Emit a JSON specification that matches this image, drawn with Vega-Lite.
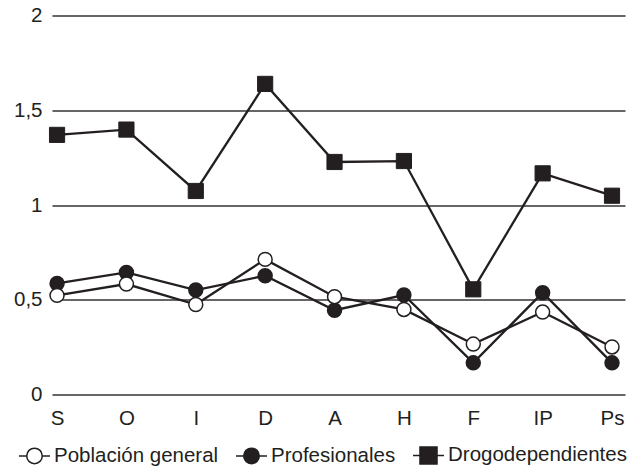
{
  "$schema": "https://vega.github.io/schema/vega-lite/v6.json",
  "width": 573,
  "height": 379,
  "autosize": "none",
  "padding": {"left": 52, "top": 15.5, "right": 14, "bottom": 71.5},
  "background": "white",
  "config": {
    "view": {"stroke": null},
    "font": "Liberation Sans",
    "axis": {"labelFont": "Liberation Sans", "labelColor": "#231f20"},
    "legend": {
      "labelFont": "Liberation Sans",
      "labelColor": "#231f20",
      "labelFontSize": 20.5,
      "labelLimit": 400,
      "labelOffset": 3,
      "columnPadding": 14,
      "padding": 0,
      "symbolSize": 961,
      "symbolStrokeWidth": 1.5,
      "symbolStrokeColor": "#231f20",
      "symbolOpacity": 1
    }
  },
  "data": {
    "values": [
      {"dim": "S", "serie": "Profesionales", "valor": 0.586},
      {"dim": "O", "serie": "Profesionales", "valor": 0.644},
      {"dim": "I", "serie": "Profesionales", "valor": 0.551},
      {"dim": "D", "serie": "Profesionales", "valor": 0.627},
      {"dim": "A", "serie": "Profesionales", "valor": 0.445},
      {"dim": "H", "serie": "Profesionales", "valor": 0.525},
      {"dim": "F", "serie": "Profesionales", "valor": 0.167},
      {"dim": "IP", "serie": "Profesionales", "valor": 0.537},
      {"dim": "Ps", "serie": "Profesionales", "valor": 0.167},
      {"dim": "S", "serie": "Drogodependientes", "valor": 1.37},
      {"dim": "O", "serie": "Drogodependientes", "valor": 1.398},
      {"dim": "I", "serie": "Drogodependientes", "valor": 1.074},
      {"dim": "D", "serie": "Drogodependientes", "valor": 1.639},
      {"dim": "A", "serie": "Drogodependientes", "valor": 1.227},
      {"dim": "H", "serie": "Drogodependientes", "valor": 1.232},
      {"dim": "F", "serie": "Drogodependientes", "valor": 0.555},
      {"dim": "IP", "serie": "Drogodependientes", "valor": 1.167},
      {"dim": "Ps", "serie": "Drogodependientes", "valor": 1.049},
      {"dim": "S", "serie": "Población general", "valor": 0.523},
      {"dim": "O", "serie": "Población general", "valor": 0.583},
      {"dim": "I", "serie": "Población general", "valor": 0.475},
      {"dim": "D", "serie": "Población general", "valor": 0.713},
      {"dim": "A", "serie": "Población general", "valor": 0.516},
      {"dim": "H", "serie": "Población general", "valor": 0.449},
      {"dim": "F", "serie": "Población general", "valor": 0.266},
      {"dim": "IP", "serie": "Población general", "valor": 0.435},
      {"dim": "Ps", "serie": "Población general", "valor": 0.251}
    ]
  },
  "encoding": {
    "x": {
      "field": "dim",
      "type": "nominal",
      "sort": ["S", "O", "I", "D", "A", "H", "F", "IP", "Ps"],
      "scale": {"type": "point", "padding": 0.13, "align": 0.28},
      "axis": {
        "title": null,
        "domain": false,
        "ticks": false,
        "tickSize": 0,
        "labelPadding": 14,
        "labelFontSize": 20.5,
        "labelAngle": 0,
        "grid": false
      }
    },
    "y": {
      "field": "valor",
      "type": "quantitative",
      "scale": {"domain": [0, 2], "nice": false, "zero": true},
      "axis": {
        "title": null,
        "domain": false,
        "ticks": false,
        "tickSize": 0,
        "values": [0, 0.5, 1, 1.5, 2],
        "labelExpr": "replace(format(datum.value, '~g'), '.', ',')",
        "labelPadding": 10,
        "labelFontSize": 20.5,
        "grid": true,
        "gridColor": "#333333",
        "gridWidth": 1.4
      }
    }
  },
  "layer": [
    {
      "mark": {"type": "line", "color": "#231f20", "strokeWidth": 2.3},
      "encoding": {"detail": {"field": "serie", "type": "nominal"}}
    },
    {
      "transform": [{"filter": "datum.serie !== 'Drogodependientes'"}],
      "mark": {"type": "point", "shape": "circle", "filled": true, "size": 195, "stroke": "#231f20", "strokeWidth": 1.5, "opacity": 1},
      "encoding": {
        "fill": {
          "field": "serie",
          "type": "nominal",
          "scale": {
            "domain": ["Población general", "Profesionales", "Drogodependientes"],
            "range": ["#ffffff", "#231f20", "#231f20"]
          },
          "legend": {
            "title": null,
            "orient": "none",
            "legendX": -34,
            "legendY": 423,
            "direction": "horizontal",
            "encode": {
              "symbols": {
                "update": {
                  "shape": {"signal": "datum.value === 'Drogodependientes' ? 'M-1,0H-0.5M0.5,0H1M-0.55,-0.55H0.55V0.55H-0.55Z' : 'M-1,0H-0.5M0.5,0H1M0.5,0A0.5,0.5,0,1,1,-0.5,0A0.5,0.5,0,1,1,0.5,0Z'"},
                  "size": {"value": 961},
                  "stroke": {"value": "#231f20"},
                  "strokeWidth": {"value": 1.5},
                  "opacity": {"value": 1}
                }
              }
            }
          }
        },
        "order": {"field": "serie", "sort": "descending"}
      }
    },
    {
      "transform": [{"filter": "datum.serie === 'Drogodependientes'"}],
      "mark": {"type": "point", "shape": "square", "filled": true, "size": 230, "stroke": "#231f20", "strokeWidth": 1, "opacity": 1},
      "encoding": {
        "fill": {
          "field": "serie",
          "type": "nominal",
          "scale": {
            "domain": ["Población general", "Profesionales", "Drogodependientes"],
            "range": ["#ffffff", "#231f20", "#231f20"]
          },
          "legend": {
            "title": null,
            "orient": "none",
            "legendX": -34,
            "legendY": 423,
            "direction": "horizontal",
            "encode": {
              "symbols": {
                "update": {
                  "shape": {"signal": "datum.value === 'Drogodependientes' ? 'M-1,0H-0.5M0.5,0H1M-0.55,-0.55H0.55V0.55H-0.55Z' : 'M-1,0H-0.5M0.5,0H1M0.5,0A0.5,0.5,0,1,1,-0.5,0A0.5,0.5,0,1,1,0.5,0Z'"},
                  "size": {"value": 961},
                  "stroke": {"value": "#231f20"},
                  "strokeWidth": {"value": 1.5},
                  "opacity": {"value": 1}
                }
              }
            }
          }
        }
      }
    }
  ]
}
